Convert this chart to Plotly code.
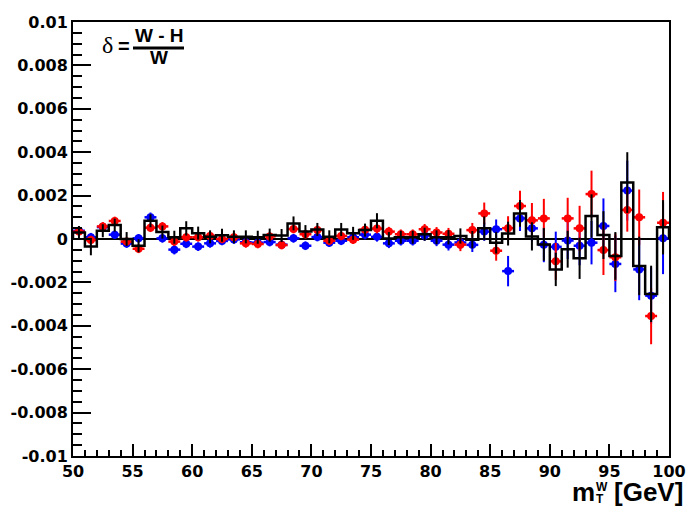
import plotly.graph_objects as go

# bin edges / centres (1 GeV bins from 50 to 100)
bin_low = list(range(50, 100))
bin_centers = [b + 0.5 for b in bin_low]

# black histogram (W - H)/W and its errors
black_vals = [0.30e-3, -0.35e-3, 0.38e-3, 0.64e-3, 0.00e-3, -0.31e-3, 0.84e-3, 0.32e-3, 0.08e-3, 0.49e-3,
              0.27e-3, 0.10e-3, 0.17e-3, 0.10e-3, 0.10e-3, 0.08e-3, 0.18e-3, 0.16e-3, 0.72e-3, 0.34e-3,
              0.44e-3, 0.10e-3, 0.44e-3, 0.26e-3, 0.41e-3, 0.84e-3, 0.02e-3, 0.08e-3, 0.08e-3, 0.22e-3,
              0.08e-3, 0.08e-3, 0.14e-3, -0.03e-3, 0.49e-3, -0.17e-3, 0.25e-3, 1.18e-3, 0.12e-3, -0.25e-3,
              -1.40e-3, -0.47e-3, -0.89e-3, 1.06e-3, 0.18e-3, -0.78e-3, 2.60e-3, -1.24e-3, -2.53e-3, 0.54e-3]
black_errs = [0.30e-3, 0.40e-3, 0.30e-3, 0.30e-3, 0.32e-3, 0.30e-3, 0.30e-3, 0.30e-3, 0.30e-3, 0.33e-3,
              0.30e-3, 0.30e-3, 0.30e-3, 0.30e-3, 0.30e-3, 0.30e-3, 0.30e-3, 0.30e-3, 0.32e-3, 0.30e-3,
              0.30e-3, 0.30e-3, 0.30e-3, 0.30e-3, 0.30e-3, 0.35e-3, 0.30e-3, 0.30e-3, 0.30e-3, 0.30e-3,
              0.32e-3, 0.33e-3, 0.35e-3, 0.40e-3, 0.55e-3, 0.50e-3, 0.55e-3, 0.62e-3, 0.65e-3, 0.75e-3,
              0.77e-3, 0.85e-3, 0.95e-3, 1.00e-3, 1.10e-3, 1.10e-3, 1.40e-3, 1.35e-3, 1.30e-3, 1.25e-3]

# blue points
blue_vals = [0.38e-3, 0.08e-3, 0.55e-3, 0.20e-3, -0.21e-3, 0.03e-3, 1.00e-3, 0.03e-3, -0.49e-3, -0.22e-3,
             -0.35e-3, -0.20e-3, -0.09e-3, -0.02e-3, -0.15e-3, -0.17e-3, -0.14e-3, -0.26e-3, 0.03e-3, -0.31e-3,
             0.09e-3, -0.17e-3, -0.08e-3, 0.08e-3, 0.20e-3, 0.10e-3, -0.20e-3, -0.08e-3, -0.08e-3, 0.16e-3,
             -0.08e-3, -0.26e-3, -0.16e-3, -0.27e-3, 0.34e-3, 0.45e-3, -1.48e-3, 0.95e-3, 0.49e-3, -0.27e-3,
             -0.36e-3, -0.07e-3, -0.31e-3, -0.17e-3, 0.60e-3, -1.15e-3, 2.23e-3, -1.40e-3, -2.61e-3, 0.03e-3]
blue_errs = [0.20e-3, 0.20e-3, 0.20e-3, 0.20e-3, 0.20e-3, 0.20e-3, 0.22e-3, 0.20e-3, 0.22e-3, 0.20e-3,
             0.20e-3, 0.20e-3, 0.20e-3, 0.20e-3, 0.20e-3, 0.20e-3, 0.20e-3, 0.20e-3, 0.20e-3, 0.20e-3,
             0.20e-3, 0.20e-3, 0.20e-3, 0.20e-3, 0.22e-3, 0.22e-3, 0.22e-3, 0.22e-3, 0.22e-3, 0.24e-3,
             0.25e-3, 0.27e-3, 0.30e-3, 0.33e-3, 0.42e-3, 0.45e-3, 0.70e-3, 0.58e-3, 0.60e-3, 0.80e-3,
             0.70e-3, 0.85e-3, 0.90e-3, 1.00e-3, 1.27e-3, 1.30e-3, 1.38e-3, 1.42e-3, 1.30e-3, 1.65e-3]

# red points
red_vals = [0.34e-3, -0.05e-3, 0.58e-3, 0.83e-3, -0.12e-3, -0.45e-3, 0.52e-3, 0.58e-3, -0.12e-3, 0.08e-3,
            0.08e-3, 0.14e-3, 0.00e-3, 0.08e-3, -0.20e-3, -0.23e-3, 0.12e-3, -0.28e-3, 0.46e-3, 0.22e-3,
            0.41e-3, -0.08e-3, 0.14e-3, -0.03e-3, 0.43e-3, 0.48e-3, 0.34e-3, 0.22e-3, 0.22e-3, 0.45e-3,
            0.30e-3, 0.24e-3, -0.26e-3, 0.41e-3, 1.18e-3, -0.54e-3, 0.50e-3, 1.52e-3, 0.86e-3, 0.95e-3,
            -1.03e-3, 0.95e-3, 0.49e-3, 2.07e-3, -0.51e-3, -0.84e-3, 1.34e-3, 1.00e-3, -3.55e-3, 0.75e-3]
red_errs = [0.20e-3, 0.20e-3, 0.20e-3, 0.20e-3, 0.20e-3, 0.20e-3, 0.20e-3, 0.20e-3, 0.20e-3, 0.20e-3,
            0.20e-3, 0.20e-3, 0.20e-3, 0.20e-3, 0.20e-3, 0.20e-3, 0.20e-3, 0.20e-3, 0.20e-3, 0.20e-3,
            0.20e-3, 0.20e-3, 0.20e-3, 0.20e-3, 0.22e-3, 0.22e-3, 0.22e-3, 0.22e-3, 0.22e-3, 0.24e-3,
            0.25e-3, 0.27e-3, 0.30e-3, 0.33e-3, 0.50e-3, 0.46e-3, 0.55e-3, 0.70e-3, 0.80e-3, 0.90e-3,
            0.85e-3, 0.95e-3, 1.04e-3, 1.08e-3, 1.15e-3, 1.10e-3, 1.00e-3, 1.28e-3, 1.30e-3, 1.42e-3]

y_tickvals = [0.01, 0.008, 0.006, 0.004, 0.002, 0.0, -0.002, -0.004, -0.006, -0.008, -0.01]
y_ticktext = ["0.01", "0.008", "0.006", "0.004", "0.002", "0", "-0.002", "-0.004", "-0.006", "-0.008", "-0.01"]
x_tickvals = [50, 55, 60, 65, 70, 75, 80, 85, 90, 95, 100]
x_ticktext = ["50", "55", "60", "65", "70", "75", "80", "85", "90", "95", "100"]

W, H = 688, 507
L, R, T, B = 73, 19, 22, 51
pw, ph = W - L - R, H - T - B


def px(x):
    return (x - L) / pw


def py(y):
    return (H - B - y) / ph


fig = go.Figure()

# blue
fig.add_trace(go.Scatter(
    x=bin_centers, y=blue_vals, mode="markers",
    marker=dict(color="#0000ff", size=8, symbol="circle"),
    error_y=dict(type="data", array=blue_errs, color="#0000ff", thickness=2, width=0),
    error_x=dict(type="constant", value=0.5, color="#0000ff", thickness=2.5, width=0),
    showlegend=False))

# red
fig.add_trace(go.Scatter(
    x=bin_centers, y=red_vals, mode="markers",
    marker=dict(color="#ff0000", size=8, symbol="circle"),
    error_y=dict(type="data", array=red_errs, color="#ff0000", thickness=2, width=0),
    error_x=dict(type="constant", value=0.5, color="#ff0000", thickness=2.5, width=0),
    showlegend=False))

# black histogram step
step_x = [bin_low[0]] + bin_low + [bin_low[-1] + 1]
step_y = [0.0] + black_vals + [0.0]
fig.add_trace(go.Scatter(
    x=step_x, y=step_y, mode="lines", line=dict(color="black", width=2.5, shape="hv"),
    showlegend=False, hoverinfo="skip"))

# black error bars
fig.add_trace(go.Scatter(
    x=bin_centers, y=black_vals, mode="markers",
    marker=dict(color="rgba(0,0,0,0)", size=1),
    error_y=dict(type="data", array=black_errs, color="black", thickness=2, width=0),
    showlegend=False))

tickfont = dict(family="DejaVu Sans", size=16, color="black", weight="bold")

fig.update_layout(
    width=W, height=H,
    margin=dict(l=L, r=R, t=T, b=B, autoexpand=False),
    paper_bgcolor="white", plot_bgcolor="white",
    xaxis=dict(range=[50, 100], showgrid=False, zeroline=False, automargin=False,
               showline=True, mirror=True, linecolor="black", linewidth=2,
               tickmode="array", tickvals=x_tickvals, ticktext=x_ticktext,
               ticks="inside", ticklen=12, tickwidth=2, tickcolor="black",
               minor=dict(tickmode="linear", tick0=50, dtick=1, ticks="inside",
                          ticklen=6, tickwidth=2, tickcolor="black"),
               tickfont=tickfont),
    yaxis=dict(range=[-0.01, 0.01], showgrid=False, automargin=False,
               zeroline=True, zerolinecolor="black", zerolinewidth=2,
               showline=True, mirror=True, linecolor="black", linewidth=2,
               tickmode="array", tickvals=y_tickvals, ticktext=y_ticktext,
               ticks="inside", ticklen=18, tickwidth=2, tickcolor="black",
               minor=dict(tickmode="linear", tick0=0, dtick=0.0005, ticks="inside",
                          ticklen=9, tickwidth=2, tickcolor="black"),
               tickfont=tickfont),
)

bold_font = "Liberation Sans"
ann = []
# x-axis title: m_T^W [GeV]
ann.append(dict(text="<b>[GeV]</b>", x=px(684), y=py(492), xref="paper", yref="paper",
                xanchor="right", yanchor="middle", showarrow=False, borderpad=0,
                font=dict(family=bold_font, size=26, color="black")))
ann.append(dict(text="<b>m</b>", x=px(596), y=py(492), xref="paper", yref="paper",
                xanchor="right", yanchor="middle", showarrow=False, borderpad=0,
                font=dict(family=bold_font, size=26, color="black")))
ann.append(dict(text="<b>W</b>", x=px(595), y=py(487), xref="paper", yref="paper",
                xanchor="left", yanchor="middle", showarrow=False, borderpad=0,
                font=dict(family=bold_font, size=12, color="black")))
ann.append(dict(text="<b>T</b>", x=px(595), y=py(499), xref="paper", yref="paper",
                xanchor="left", yanchor="middle", showarrow=False, borderpad=0,
                font=dict(family=bold_font, size=12, color="black")))
# formula
ann.append(dict(text="δ", x=px(107), y=py(45), xref="paper", yref="paper",
                xanchor="center", yanchor="middle", showarrow=False,
                font=dict(family="Liberation Serif", size=24, color="black")))
ann.append(dict(text="<b>=</b>", x=px(124), y=py(46), xref="paper", yref="paper",
                xanchor="center", yanchor="middle", showarrow=False,
                font=dict(family=bold_font, size=20, color="black")))
ann.append(dict(text="<b>W - H</b>", x=px(159), y=py(35), xref="paper", yref="paper",
                xanchor="center", yanchor="middle", showarrow=False,
                font=dict(family=bold_font, size=19, color="black")))
ann.append(dict(text="<b>W</b>", x=px(159), y=py(58), xref="paper", yref="paper",
                xanchor="center", yanchor="middle", showarrow=False,
                font=dict(family=bold_font, size=19, color="black")))
fig.update_layout(annotations=ann)

fig.add_shape(type="line", xref="paper", yref="paper",
              x0=px(133), x1=px(184), y0=py(48), y1=py(48),
              line=dict(color="black", width=3))

fig.write_html("out.html", config={"displayModeBar": False},
               post_script="document.body.style.margin='0px';")
